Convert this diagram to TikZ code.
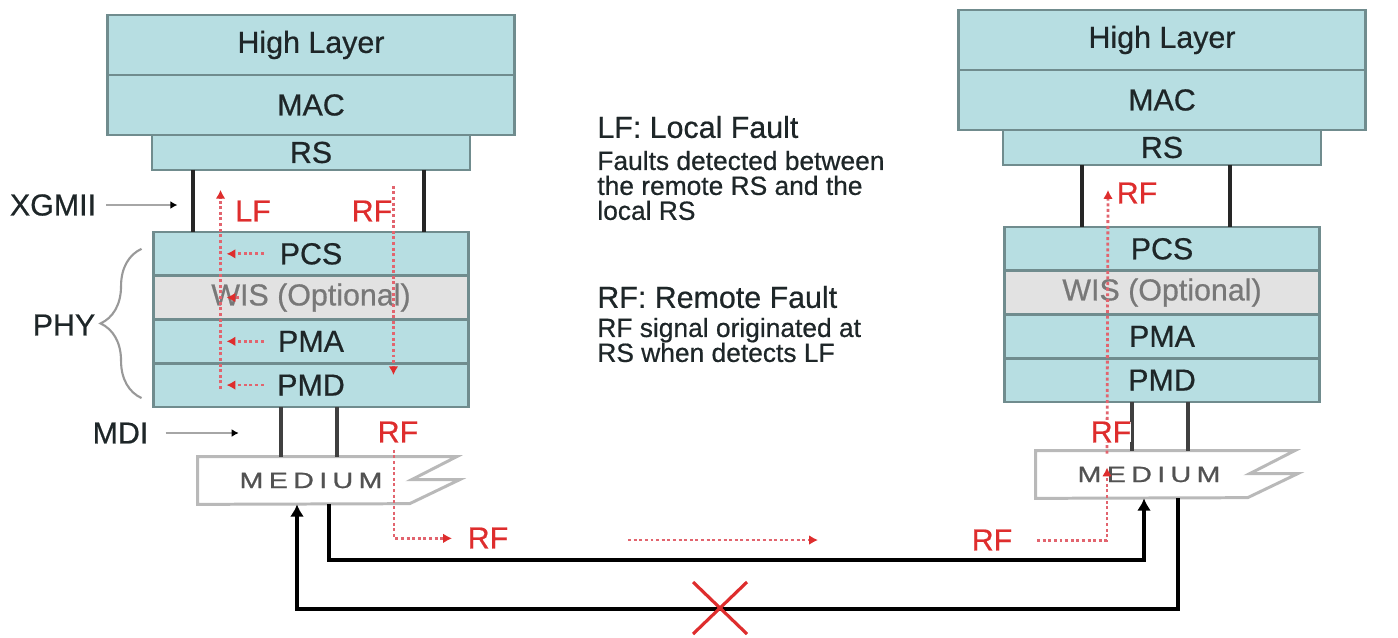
\documentclass[tikz,border=0pt]{standalone}
\usepackage{fontspec}
\setmainfont{Liberation Sans}
\newfontfamily\boxfont[FakeBold=0.6]{Liberation Sans}
\newfontfamily\medfont[FakeStretch=1.3,FakeBold=0.8]{Liberation Sans}
\usepackage{tikz}
\usetikzlibrary{arrows.meta,positioning,calc,decorations.pathreplacing}
\usepackage{xcolor}
\definecolor{layerfill}{RGB}{183,222,226}
\definecolor{layerline}{RGB}{112,140,142}
\definecolor{wisfill}{RGB}{226,226,226}
\definecolor{wistext}{RGB}{120,120,120}
\definecolor{boxtext}{RGB}{30,38,40}
\definecolor{faultred}{RGB}{222,45,45}
\definecolor{faultdot}{RGB}{226,100,110}
\definecolor{medline}{RGB}{185,185,185}
\newcommand{\medword}{M\kern3pt E\kern3pt D\kern3pt I\kern3pt U\kern3pt M}

\tikzset{
  layer/.style={draw=layerline, fill=layerfill, line width=1.5pt, text=boxtext,
    font=\boxfont\fontsize{17.3}{20}\selectfont, inner sep=0pt, outer sep=0pt,
    minimum width=6.3cm, minimum height=0.875cm},
  widelayer/.style={layer, minimum width=8.14cm, minimum height=1.2cm},
  wisbox/.style={layer, fill=wisfill, text=wistext},
  medium/.style={fill=white, inner sep=0pt, minimum width=4.52cm, minimum height=0.94cm,
    text=black!68, font=\medfont\fontsize{12.6}{14}\selectfont},
  label/.style={font=\boxfont\fontsize{17.3}{20}\selectfont, text=boxtext, inner sep=0pt},
  flt/.style={font=\boxfont\fontsize{17.3}{20}\selectfont, text=faultred, inner sep=0pt},
  note/.style={font=\boxfont\fontsize{17.3}{20}\selectfont, text=boxtext, inner sep=0pt},
  notebody/.style={font=\boxfont\fontsize{15}{14.2}\selectfont, text=boxtext, inner sep=0pt, align=left},
  fault/.style={draw=faultdot, line width=1.6pt, dash pattern=on 1.7pt off 1.5pt,
    -{Latex[length=5pt,width=5.5pt,color=faultred]}},
  bus/.style={draw=black!85, line width=1.8pt},
  drop/.style={draw=black!75, line width=2.1pt},
  wire/.style={draw=black, line width=2.3pt, -{Latex[length=7pt,width=8pt]}},
  pointer/.style={draw=black!35, line width=1.5pt, -{Latex[length=4pt,width=4.5pt,color=black]}},
  phybrace/.style={draw=black!40, line width=1.2pt, decorate,
    decoration={brace, amplitude=0.82cm, aspect=0.5}},
  cross/.style={draw=faultred, line width=1.8pt}
}

\begin{document}
\begin{tikzpicture}[x=0.02cm, y=-0.02cm]
  \useasboundingbox (0,0) rectangle (1398,637);
  % the two layer stacks with their media
  \foreach \s/\cx/\cy/\mx/\my/\bl/\br in {L/311/15/311/480.5/-118/113, R/1162/10/1149/474.5/-80/68}{
    \node[widelayer, anchor=north] (\s-high) at (\cx,\cy) {High Layer};
    \node[widelayer, below=0pt of \s-high] (\s-mac) {MAC};
    \node[layer, minimum width=6.36cm, minimum height=0.7cm, below=0pt of \s-mac] (\s-rs) {RS};
    \node[layer, below=1.24cm of \s-rs] (\s-pcs) {PCS};
    \node[wisbox, below=0pt of \s-pcs] (\s-wis) {WIS (Optional)};
    \node[layer, below=0pt of \s-wis] (\s-pma) {PMA};
    \node[layer, below=0pt of \s-pma] (\s-pmd) {PMD};
    % XGMII bus
    \draw[bus] ($(\s-rs.south)+(\bl,0)$) -- ($(\s-rs.south)+(\bl,62)$);
    \draw[bus] ($(\s-rs.south)+(\br,0)$) -- ($(\s-rs.south)+(\br,62)$);
    % medium
    \node[medium] (\s-med) at (\mx,\my) {\medword};
    \draw[medline, line width=1.7pt] (\s-med.north west) -- ++(259,0) -- ++(-45,23) -- ++(48,0)
      -- ++(-50,24) -- (\s-med.south west) -- cycle;
    \coordinate (\s-da) at ($(\s-pmd.south)+(-30,0)$);
    \coordinate (\s-db) at ($(\s-pmd.south)+(26,0)$);
    \draw[drop] (\s-da) -- (\s-da |- \s-med.north);
    \draw[drop] (\s-db) -- (\s-db |- \s-med.north);
  }
  % interface labels
  \node[label] (xgmii) at (53,205) {XGMII};
  \draw[pointer] ([xshift=10*0.02cm]xgmii.east) -- ++(71,0);
  \node[label] (phy) at (64,325) {PHY};
  \draw[phybrace] ($(L-pmd.west)+(-12,13)$) -- ($(L-pcs.west)+(-12,-5)$);
  \node[label] (mdi) at (120.5,433) {MDI};
  \draw[pointer] ([xshift=17*0.02cm]mdi.east) -- ++(73,0);
  % links between the media
  \draw[wire] ($(R-med.south)+(29,0)$) -- ++(0,111) -| ($(L-med.south)+(-14,0)$);
  \draw[wire] ($(L-med.south)+(18,0)$) -- ++(0,56) -| ($(R-med.south)+(-5,0)$);
  \coordinate (cut) at (720,608);
  \draw[cross] ($(cut)+(-27,-26)$) -- ($(cut)+(27,26)$);
  \draw[cross] ($(cut)+(27,-26)$) -- ($(cut)+(-27,26)$);
  % local side faults
  \node[flt] (lf) at (253,211) {LF};
  \node[flt] (rf-up) at (372,211) {RF};
  \draw[fault] ($(L-pmd.west)+(67,4)$) -- ($(L-pcs.west)+(67,-64)$);
  \foreach \l in {pcs,pma,pmd}{
    \draw[fault] ($(L-\l.west)+(110,0)$) -- ($(L-\l.west)+(73,0)$);
  }
  \draw[fault] ($(L-wis.west)+(85,0)$) -- ($(L-wis.west)+(73,0)$);
  \draw[fault] ($(L-pcs.east)+(-75,-68)$) -- ($(L-pmd.east)+(-75,-10)$);
  \node[flt] (rf-md) at (398,432) {RF};
  \draw[fault] ($(L-med.north)+(83,-7)$) |- ($(L-med.south)+(141,34)$);
  \node[flt] (rf-lo) at (488,538) {RF};
  \coordinate (mid-a) at (628,540);
  \coordinate (mid-b) at (818,540);
  \draw[fault] (mid-a) -- (mid-b);
  % remote side faults
  \node[flt] (rf-rt) at (992,540) {RF};
  \draw[fault] ($(R-med.south)+(-112,42)$) -| ($(R-med.center)+(-42,-7)$);
  \draw[fault] ($(R-med.north)+(-42,3)$) -- ($(R-rs.south)+(-54,25)$);
  \node[flt, fill=white] (rf-me) at (1111,432) {RF};
  \node[flt] (rf-top) at (1137,193) {RF};
  % legend
  \node[note, anchor=west] (lf-head) at (597,127) {LF: Local Fault};
  \node[notebody, anchor=north west] (lf-body) at (597,150.5) {Faults detected between\\the remote RS and the\\local RS};
  \node[note, anchor=west] (rf-head) at (597,297) {RF: Remote Fault};
  \node[notebody, anchor=north west] (rf-body) at (597,317.5) {RF signal originated at\\RS when detects LF};
\end{tikzpicture}
\end{document}
